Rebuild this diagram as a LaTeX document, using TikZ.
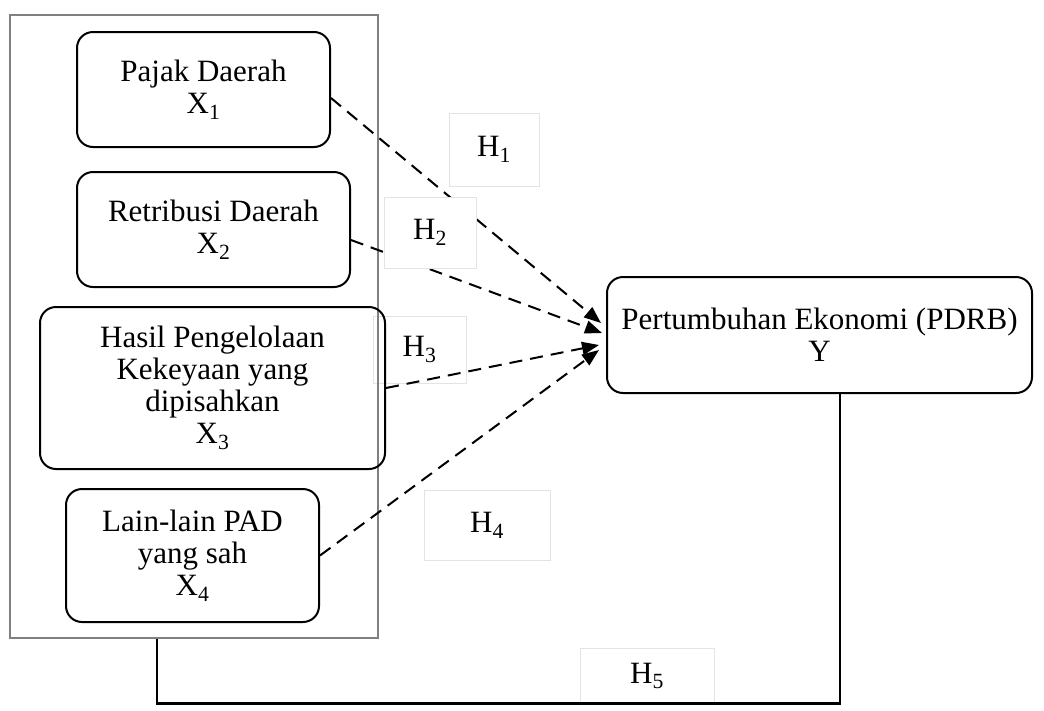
\documentclass[tikz,border=0pt]{standalone}
\usepackage{fontspec}
\setmainfont{Liberation Serif}
\usepackage{tikz}
\usetikzlibrary{positioning,calc,arrows.meta}

\tikzset{
    varbox/.style={draw, line width=2pt, rounded corners=16pt, align=center, font=\fontsize{31}{32}\selectfont},
    hbox/.style={draw=gray!22, line width=0.8pt, fill=white, font=\fontsize{31}{32}\selectfont},
    hyp/.style={line width=2pt, dash pattern=on 13pt off 8pt, -{Triangle[length=17pt,width=13pt]}},
    link/.style={line width=2.8pt}
}

\begin{document}
\begin{tikzpicture}[x=1pt,y=-1pt]
    \useasboundingbox (0,0) rectangle (1044,710);

    % Hypothesis labels
    \node[hbox, minimum width=90pt, minimum height=73pt] (h1) at (494,149.5) {H\textsubscript{1}};
    \node[hbox, fill=none, minimum width=93pt, minimum height=67pt] (h3) at (419.5,349.5) {H\textsubscript{3}};
    \node[hbox, minimum width=126pt, minimum height=70pt] (h4) at (487,525) {H\textsubscript{4}};
    \node[hbox, minimum width=134pt, minimum height=56pt] (h5) at (647,676) {H\textsubscript{5}};

    % Independent variables
    \node[draw=gray, line width=1.2pt, minimum width=368pt, minimum height=623pt] (frame) at (194,326.5) {};
    \node[varbox, minimum width=253pt, minimum height=115pt] (x1) at (203.5,89.5) {Pajak Daerah\\X\textsubscript{1}};
    \node[varbox, minimum width=273pt, minimum height=115pt] (x2) at (213.5,229.5) {Retribusi Daerah\\X\textsubscript{2}};
    \node[varbox, minimum width=345pt, minimum height=162pt] (x3) at (212.5,388) {Hasil Pengelolaan\\Kekeyaan yang\\dipisahkan\\X\textsubscript{3}};
    \node[varbox, minimum width=253pt, minimum height=133pt] (x4) at (192.5,555.5) {Lain-lain PAD\\yang sah\\X\textsubscript{4}};

    % Dependent variable
    \node[varbox, minimum width=425pt, minimum height=116pt] (y) at (819.5,335) {Pertumbuhan Ekonomi (PDRB)\\Y};

    % Arrow tips
    \coordinate (t1) at ($(y.west)+(-5,-12)$);
    \coordinate (t2) at ($(y.west)+(-4,-2)$);
    \coordinate (t3) at ($(y.west)+(-7,10)$);
    \coordinate (t4) at ($(y.west)+(-7,15)$);

    % Hypotheses
    \draw[hyp] ([yshift=-8.5pt]x1.east) -- (t1);
    \draw[hyp] ([yshift=-10.5pt]x2.east) -- (t2);
    \draw[hyp] (x3.east) -- (t3);
    \draw[hyp] (x4.east) -- (t4);

    \node[hbox, minimum width=92pt, minimum height=71pt] (h2) at (430,232.5) {H\textsubscript{2}};

    % Simultaneous effect
    \draw[link] ([xshift=-37pt]frame.south) -- ++(0,65) -| ([xshift=20.5pt]y.south);
\end{tikzpicture}
\end{document}
